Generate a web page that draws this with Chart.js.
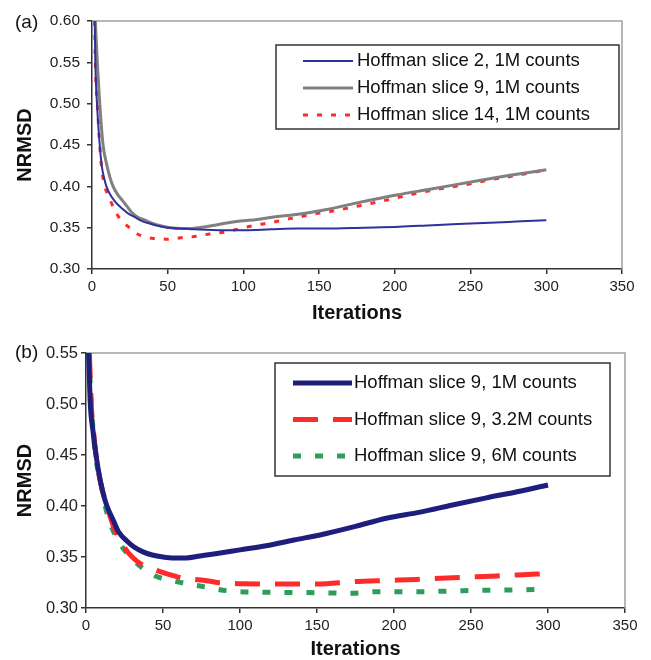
<!DOCTYPE html>
<html>
<head>
<meta charset="utf-8">
<script src="https://cdn.jsdelivr.net/npm/chart.js@4/dist/chart.umd.min.js"></script>
<style>
  body { margin: 0; background: #fff; }
  canvas { position: absolute; left: 0; }
  #chartA { top: 0; }
  #chartB { top: 330px; }
</style>
</head>
<body>
<canvas id="chartA" width="651" height="330"></canvas>
<canvas id="chartB" width="651" height="330"></canvas>
<script>
// axis ticks
const iterTicks = [0, 50, 100, 150, 200, 250, 300, 350]
const nrmsdTicksA = [0.30, 0.35, 0.40, 0.45, 0.50, 0.55, 0.60]
const nrmsdTicksB = [0.30, 0.35, 0.40, 0.45, 0.50, 0.55]

// panel (a): slices 2, 9, 14 at 1M counts
const slice2Iter = [1.8, 2.2, 3.3, 5.1, 6.5, 8, 9.5, 12, 15, 17, 20, 24, 28, 33, 38, 44, 50, 58, 68, 85, 100, 118, 135, 153, 180, 203, 225, 250, 275, 300]
const slice2Nrmsd = [0.60, 0.55, 0.50, 0.45, 0.424, 0.41, 0.40, 0.39, 0.382, 0.378, 0.373, 0.367, 0.363, 0.358, 0.355, 0.352, 0.350, 0.349, 0.348, 0.347, 0.347, 0.348, 0.349, 0.349, 0.350, 0.351, 0.353, 0.355, 0.357, 0.359]

const slice9Iter = [2.2, 3.5, 5.1, 7.3, 9.5, 12, 13.9, 17, 20, 23, 26, 30, 35, 40, 46, 52, 58, 64, 70, 78, 87, 98, 109, 120, 131, 143, 155, 175, 201, 225, 251, 275, 300]
const slice9Nrmsd = [0.60, 0.55, 0.50, 0.45, 0.428, 0.41, 0.40, 0.39, 0.383, 0.376, 0.369, 0.363, 0.359, 0.355, 0.352, 0.350, 0.349, 0.349, 0.350, 0.352, 0.355, 0.358, 0.360, 0.363, 0.365, 0.368, 0.372, 0.380, 0.3895, 0.397, 0.4056, 0.413, 0.420]

const slice14Iter = [1.8, 2.2, 3.5, 5.1, 6.5, 8.4, 11, 15, 18, 21.6, 26, 30.4, 35, 40.3, 45, 50.2, 55, 60, 69, 79, 89, 98, 108, 118, 128, 136, 146, 156, 175, 195, 213, 232, 250, 262, 280, 300]
const slice14Nrmsd = [0.60, 0.55, 0.50, 0.45, 0.42, 0.40, 0.388, 0.371, 0.362, 0.355, 0.348, 0.342, 0.339, 0.337, 0.3365, 0.336, 0.337, 0.338, 0.3395, 0.343, 0.345, 0.349, 0.353, 0.356, 0.360, 0.3625, 0.3665, 0.369, 0.376, 0.3835, 0.391, 0.3976, 0.403, 0.4077, 0.413, 0.420]

// panel (b): slice 9 at 1M, 3.2M, 6M counts
const c1mIter = [1.7, 2.8, 4.5, 6.5, 9, 11.2, 13.6, 17.7, 21, 26.4, 31, 37, 43, 50, 57, 65, 74, 83, 100, 117, 135, 152, 175, 195, 217, 238, 260, 280, 300]
const c1mNrmsd = [0.55, 0.50, 0.474, 0.45, 0.427, 0.412, 0.40, 0.386, 0.375, 0.366, 0.360, 0.355, 0.352, 0.350, 0.349, 0.349, 0.351, 0.353, 0.357, 0.361, 0.3667, 0.3716, 0.380, 0.388, 0.394, 0.401, 0.408, 0.414, 0.4206]

const c32mIter = [2.2, 3.4, 4.8, 6.5, 9.1, 13.6, 18.8, 25.3, 30, 35, 42, 50.2, 56, 63.2, 70, 78.4, 85, 91.4, 100, 117, 135, 150, 173.6, 195, 214.7, 243, 266.7, 292.7, 299]
const c32mNrmsd = [0.55, 0.50, 0.4745, 0.45, 0.4255, 0.40, 0.3765, 0.3585, 0.350, 0.3438, 0.339, 0.3346, 0.332, 0.3291, 0.328, 0.3268, 0.325, 0.3242, 0.3238, 0.3235, 0.3235, 0.3235, 0.3258, 0.327, 0.328, 0.330, 0.3314, 0.3333, 0.3337]

const c6mIter = [1.8, 2.2, 3.4, 6.2, 10, 12.5, 16, 22, 30.7, 43.7, 58.9, 74, 91.4, 117, 150, 173, 189, 217, 245, 273, 299]
const c6mNrmsd = [0.55, 0.5385, 0.50, 0.45, 0.42, 0.40, 0.382, 0.3634, 0.347, 0.3324, 0.3258, 0.3216, 0.317, 0.3154, 0.315, 0.3144, 0.316, 0.316, 0.317, 0.3176, 0.3183]

const toPoints = (xs, ys) => xs.map((x, i) => ({x: x, y: ys[i]}))
const FONT = '"Liberation Sans", Arial, sans-serif'

// legend box drawn inside the plot + panel tag "(a)"/"(b)"
const legendBox = {
  id: 'legendBox',
  afterDraw(chart, args, o) {
    const ctx = chart.ctx
    ctx.save()
    ctx.lineWidth = 1.5
    ctx.strokeStyle = '#333'
    ctx.strokeRect(o.x, o.y, o.w, o.h)
    chart.data.datasets.forEach((ds, i) => {
      const y = o.y + o.first + i * o.gap
      ctx.beginPath()
      ctx.setLineDash(ds.borderDash || [])
      ctx.lineWidth = ds.borderWidth
      ctx.strokeStyle = ds.borderColor
      ctx.moveTo(o.lineX1, y)
      ctx.lineTo(o.lineX2, y)
      ctx.stroke()
      ctx.setLineDash([])
      ctx.fillStyle = '#111'
      ctx.font = '18.5px ' + FONT
      ctx.textBaseline = 'middle'
      ctx.fillText(ds.label, o.textX, y)
    })
    ctx.font = '19px ' + FONT
    ctx.fillStyle = '#111'
    ctx.textBaseline = 'middle'
    ctx.fillText(o.tag, 15, o.tagY)
    ctx.restore()
  }
}

// gray frame on top and right of plot area
const frame = {
  id: 'frame',
  beforeDatasetsDraw(chart) {
    const {ctx, chartArea: a} = chart
    ctx.save()
    ctx.strokeStyle = '#a0a0a0'
    ctx.lineWidth = 1.5
    ctx.beginPath()
    ctx.moveTo(a.left, a.top)
    ctx.lineTo(a.right, a.top)
    ctx.lineTo(a.right, a.bottom)
    ctx.stroke()
    ctx.restore()
  }
}

const makeScales = (yTicks, yWidth, xHeight, yPad, yFont, xTitlePad, yTitlePad) => ({
  x: {
    type: 'linear', min: 0, max: 350,
    afterFit: s => { s.height = xHeight },
    afterBuildTicks: s => { s.ticks = iterTicks.map(v => ({value: v})) },
    grid: {drawOnChartArea: false, tickLength: 5, color: '#333', lineWidth: 1.5},
    border: {color: '#333', width: 1.5},
    ticks: {color: '#222', padding: 4, font: {family: FONT, size: 15}},
    title: {display: true, text: 'Iterations', color: '#111', padding: {top: 0, bottom: xTitlePad},
      font: {family: FONT, size: 20, weight: 'bold', lineHeight: 1}}
  },
  y: {
    type: 'linear', min: yTicks[0], max: yTicks[yTicks.length - 1],
    afterFit: s => { s.width = yWidth },
    afterBuildTicks: s => { s.ticks = yTicks.map(v => ({value: v})) },
    grid: {drawOnChartArea: false, tickLength: 5, color: '#333', lineWidth: 1.5},
    border: {color: '#333', width: 1.5},
    ticks: {color: '#222', padding: yPad, font: {family: FONT, size: yFont}, callback: v => v.toFixed(2)},
    title: {display: true, text: 'NRMSD', color: '#111', padding: {top: yTitlePad, bottom: 0},
      font: {family: FONT, size: 20, weight: 'bold', lineHeight: 1}}
  }
})

const lineDs = (label, pts, color, width, dash) => ({
  label: label, data: pts, borderColor: color, borderWidth: width, borderDash: dash,
  pointRadius: 0, fill: false, clip: 0, cubicInterpolationMode: 'monotone'
})

new Chart(document.getElementById('chartA'), {
  type: 'line',
  data: {
    datasets: [
      lineDs('Hoffman slice 2, 1M counts', toPoints(slice2Iter, slice2Nrmsd), '#30319a', 2, []),
      lineDs('Hoffman slice 9, 1M counts', toPoints(slice9Iter, slice9Nrmsd), '#808080', 3, []),
      lineDs('Hoffman slice 14, 1M counts', toPoints(slice14Iter, slice14Nrmsd), '#ff2b2b', 3, [5, 9])
    ]
  },
  options: {
    responsive: false, animation: false,
    layout: {padding: {top: 21, right: 29, left: 0, bottom: 0}},
    scales: makeScales(nrmsdTicksA, 92, 61, 7, 15.5, 6.5, 15.5),
    plugins: {
      legend: {display: false}, tooltip: {enabled: false},
      legendBox: {x: 276, y: 45, w: 343, h: 84, first: 16, gap: 27, lineX1: 303, lineX2: 353, textX: 357, tag: '(a)', tagY: 23}
    }
  },
  plugins: [frame, legendBox]
})

new Chart(document.getElementById('chartB'), {
  type: 'line',
  data: {
    datasets: [
      lineDs('Hoffman slice 9, 1M counts', toPoints(c1mIter, c1mNrmsd), '#1e1f7d', 5, []),
      lineDs('Hoffman slice 9, 3.2M counts', toPoints(c32mIter, c32mNrmsd), '#ff2a2a', 5, [25, 15]),
      lineDs('Hoffman slice 9, 6M counts', toPoints(c6mIter, c6mNrmsd), '#2e9c5c', 5, [8, 14])
    ]
  },
  options: {
    responsive: false, animation: false,
    layout: {padding: {top: 23, right: 26, left: 0, bottom: 0}},
    scales: makeScales(nrmsdTicksB, 86, 52, 3, 16.5, 1, 15),
    plugins: {
      legend: {display: false}, tooltip: {enabled: false},
      legendBox: {x: 275, y: 33, w: 335, h: 113, first: 20, gap: 36.5, lineX1: 293, lineX2: 352, textX: 354, tag: '(b)', tagY: 23}
    }
  },
  plugins: [frame, legendBox]
})
</script>
</body>
</html>
